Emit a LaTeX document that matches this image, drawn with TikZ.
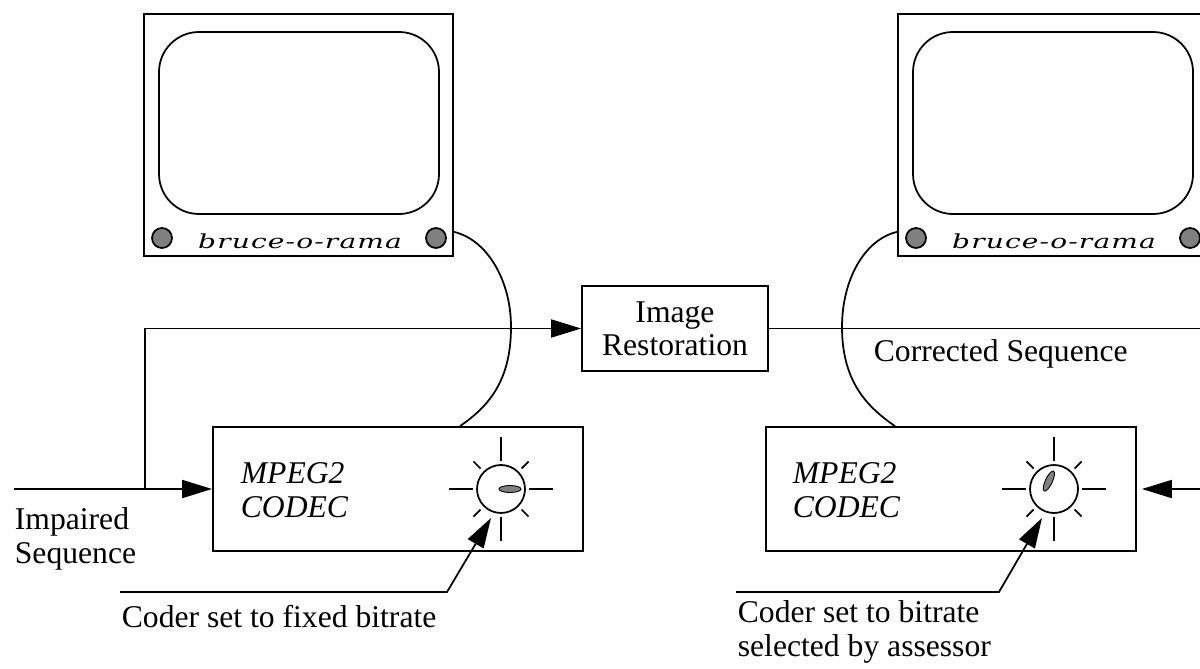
\documentclass[tikz,border=0pt]{standalone}
\usepackage{fontspec}
\setmainfont{Liberation Serif}
\newfontfamily\brandfont[FakeStretch=1.45,LetterSpace=6]{DejaVu Serif}
\usetikzlibrary{calc,arrows.meta,positioning}
\newcommand{\knobcolor}{gray}
\newcommand{\wire}{1pt}
\newcommand{\brand}{{\brandfont\itshape\fontsize{11}{11}\selectfont bruce-o-rama}}

\tikzset{
  codec/.style={draw, line width=\wire, minimum width=7.4cm, minimum height=2.48cm},
  screen/.style={draw, line width=\wire, minimum width=6.18cm, minimum height=4.84cm},
  label/.style={font=\fontsize{18}{19}\selectfont, align=left, inner sep=0pt},
  tip/.style={-{Triangle[length=0.6cm,width=0.36cm]}},
}

\begin{document}
\begin{tikzpicture}[line width=\wire]
\useasboundingbox (0,0) rectangle (24,13.36);
%monitors
\node[screen] (monL) at (5.97,10.66) {};
\node[screen] (monR) at (21.05,10.66) {};
\draw[rounded corners=0.8cm] ($(monL.center)+(-2.79,-1.58)$) rectangle ($(monL.center)+(2.81,2.06)$);
\draw[rounded corners=0.8cm] ($(monR.center)+(-2.79,-1.58)$) rectangle ($(monR.center)+(2.81,2.06)$);
\filldraw[fill=\knobcolor] ($(monL.center)+(-2.73,-2.06)$) circle (0.2);
\filldraw[fill=\knobcolor] ($(monL.center)+(2.75,-2.06)$) circle (0.2);
\filldraw[fill=\knobcolor] ($(monR.center)+(-2.73,-2.06)$) circle (0.2);
\filldraw[fill=\knobcolor] ($(monR.center)+(2.75,-2.06)$) circle (0.2);
\node (brandL) at ($(monL.center)+(0.03,-2.12)$) {\brand};
\node (brandR) at ($(monR.center)+(0.03,-2.12)$) {\brand};
%boxes
\node[codec] (codecL) at (7.96,3.58) {};
\node[codec] (codecR) at (19.02,3.58) {};
\node[draw, minimum width=3.72cm, minimum height=1.70cm, label, align=center] (restore) at (13.50,6.79) {Image\\Restoration};
\node[label, anchor=base west, font=\fontsize{18}{19}\selectfont\itshape] (nameL) at (4.80,3.02) {MPEG2\\CODEC};
\node[label, anchor=base west, font=\fontsize{18}{19}\selectfont\itshape] (nameR) at (15.84,3.02) {MPEG2\\CODEC};
%dials
\node[draw, circle, minimum size=0.96cm, inner sep=0pt] (dialL) at (10.02,3.58) {};
\node[draw, circle, minimum size=0.96cm, inner sep=0pt] (dialR) at (21.08,3.58) {};
\draw (dialL.center) ++(0:0.56) -- ++(0:0.48);
\draw (dialL.center) ++(90:0.56) -- ++(90:0.48);
\draw (dialL.center) ++(180:0.56) -- ++(180:0.48);
\draw (dialL.center) ++(270:0.56) -- ++(270:0.48);
\draw (dialL.center) ++(45:0.58) -- ++(45:0.2);
\draw (dialL.center) ++(135:0.58) -- ++(135:0.2);
\draw (dialL.center) ++(225:0.58) -- ++(225:0.2);
\draw (dialL.center) ++(315:0.58) -- ++(315:0.2);
\draw (dialR.center) ++(0:0.56) -- ++(0:0.48);
\draw (dialR.center) ++(90:0.56) -- ++(90:0.48);
\draw (dialR.center) ++(180:0.56) -- ++(180:0.48);
\draw (dialR.center) ++(270:0.56) -- ++(270:0.48);
\draw (dialR.center) ++(45:0.58) -- ++(45:0.2);
\draw (dialR.center) ++(135:0.58) -- ++(135:0.2);
\draw (dialR.center) ++(225:0.58) -- ++(225:0.2);
\draw (dialR.center) ++(315:0.58) -- ++(315:0.2);
\filldraw[fill=\knobcolor, line width=0.5pt] ($(dialL.center)+(0.18,0)$) ellipse (0.22 and 0.07);
\filldraw[fill=\knobcolor, line width=0.5pt, rotate around={65:($(dialR.center)+(0.1,0.16)$)}] ($(dialR.center)+(0.1,0.16)$) ellipse (0.22 and 0.07);
%cables
\coordinate (bendL) at (10.22,6.82);
\coordinate (bendR) at (16.84,6.82);
\draw ($(monL.south east)+(0,0.5)$) .. controls +(0.65,-0.15) and +(0,0.95) .. (bendL) .. controls +(0,-1.1) and +(0.55,0.38) .. ($(codecL.north)+(1.24,0)$);
\draw ($(monR.south west)+(0,0.5)$) .. controls +(-0.65,-0.15) and +(0,0.95) .. (bendR) .. controls +(0,-1.1) and +(-0.55,0.38) .. ($(codecR.north)+(-1.12,0)$);
%signal path
\coordinate (inL) at (0.28,3.58);
\coordinate (split) at (2.90,3.58);
\coordinate (outR) at (24,6.79);
\coordinate (inR) at (24,3.58);
\draw (inL) -- (split);
\draw[tip] (split) -- (codecL.west);
\draw[tip] (split) |- (restore.west);
\draw (restore.east) -- (outR);
\draw[tip, shorten >=0.1cm] (inR) -- (codecR.east);
\node[label, anchor=base west] (impaired) at (0.28,2.10) {Impaired\\Sequence};
\node[label, anchor=base west] (corrected) at (17.46,6.14) {Corrected Sequence};
%notes
\coordinate (noteL) at (2.40,1.52);
\coordinate (kinkL) at (8.94,1.52);
\coordinate (noteR) at (14.72,1.52);
\coordinate (kinkR) at (19.98,1.52);
\draw[tip] (noteL) -- (kinkL) -- ($(dialL.center)+(-0.2,-0.58)$);
\draw[tip] (noteR) -- (kinkR) -- ($(dialR.center)+(-0.24,-0.58)$);
\node[label, anchor=base west] (fixed) at (2.42,0.82) {Coder set to fixed bitrate};
\node[label, anchor=base west] (chosen) at (14.74,0.24) {Coder set to bitrate\\selected by assessor};
\end{tikzpicture}
\end{document}
